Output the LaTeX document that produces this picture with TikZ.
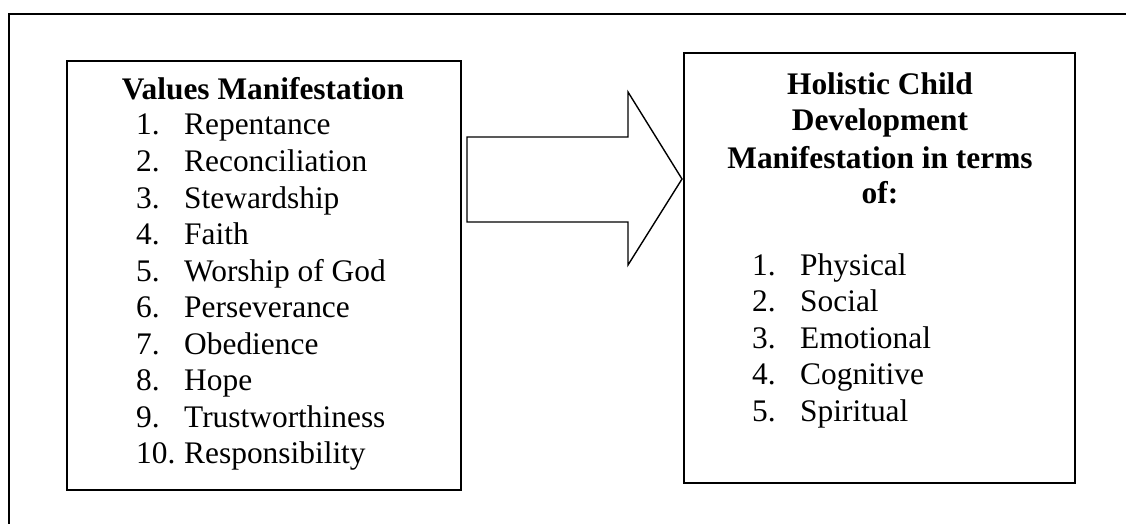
\documentclass[tikz,border=0pt]{standalone}
\usepackage{fontspec}
\setmainfont{Liberation Serif}
\begin{document}
\begin{tikzpicture}[x=1pt,y=-1pt,
  frameline/.style={line width=2pt},
  boxline/.style={draw,line width=2pt,inner sep=0pt,anchor=north west},
  arrowline/.style={line width=1.4pt,line join=miter},
  txt/.style={inner sep=0pt,font=\fontsize{31.4}{36.5}\selectfont},
  head/.style={txt,font=\fontsize{31.4}{36.5}\selectfont\bfseries,anchor=base},
  num/.style={txt,anchor=base west},
  item/.style={txt,anchor=base west}]
\useasboundingbox (0,0) rectangle (1126,524);
% outer frame (cut by the page at right and bottom)
\coordinate (fr) at (1126,14);
\coordinate (fc) at (9,14);
\coordinate (fb) at (9,524);
\draw[frameline] (fr) -- (fc) -- (fb);
% boxes
\node[boxline,minimum width=394pt,minimum height=429pt] (lbox) at (66,60) {};
\node[boxline,minimum width=391pt,minimum height=430pt] (rbox) at (683,52) {};
% block arrow
\coordinate (a1) at (467,137);
\coordinate (a2) at (628,137);
\coordinate (a3) at (628,92);
\coordinate (tip) at (682,179);
\coordinate (a5) at (628,265);
\coordinate (a6) at (628,222);
\coordinate (a7) at (467,222);
\draw[arrowline] (a1) -- (a2) -- (a3) -- (tip) -- (a5) -- (a6) -- (a7) -- cycle;
% left box text
\node[head] (lh) at (263,100) {Values Manifestation};
\foreach \i/\t in {1/Repentance,2/Reconciliation,3/Stewardship,4/Faith,5/Worship of God,6/Perseverance,7/Obedience,8/Hope,9/Trustworthiness,10/Responsibility}{
  \node[num] (ln\i) at (136,{135+(\i-1)*36.5}) {\i.};
  \node[item] (lt\i) at (184,{135+(\i-1)*36.5}) {\t};
}
% right box text
\node[head] (rh1) at (880,95) {Holistic Child};
\node[head] (rh2) at (880,131) {Development};
\node[head] (rh3) at (880,168) {Manifestation in terms};
\node[head] (rh4) at (880,203) {of:};
\foreach \i/\t in {1/Physical,2/Social,3/Emotional,4/Cognitive,5/Spiritual}{
  \node[num] (rn\i) at (752,{275+(\i-1)*36.5}) {\i.};
  \node[item] (rt\i) at (800,{275+(\i-1)*36.5}) {\t};
}
\end{tikzpicture}
\end{document}
